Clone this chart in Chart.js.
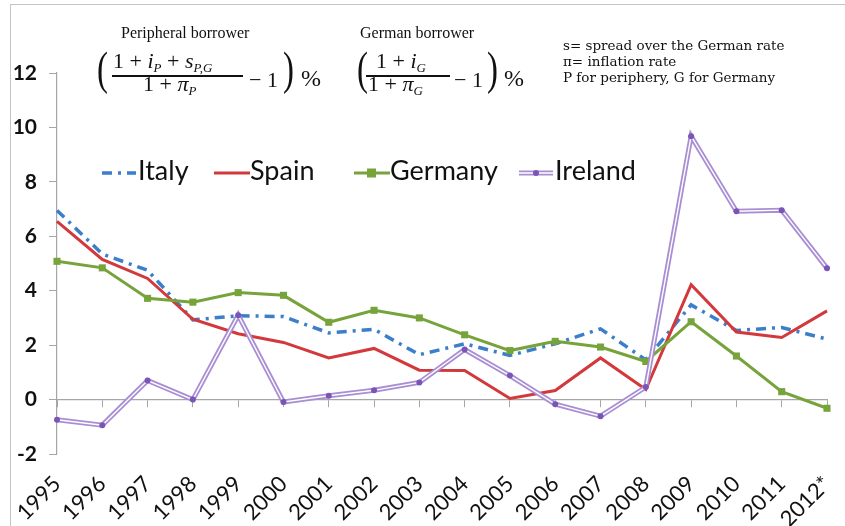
<!DOCTYPE html>
<html>
<head>
<meta charset="utf-8">
<script src="https://cdn.jsdelivr.net/npm/chart.js@4.4.1/dist/chart.umd.min.js"></script>
<style>
  body { margin: 0; background: #fff; }
  #wrap { position: relative; width: 845px; height: 526px; overflow: hidden; }
  #frame { position: absolute; left: 10px; top: 4px; width: 900px; height: 600px; border: 1px solid #c4c4c4; }
  canvas { position: absolute; left: 0; top: 0; }
  .t { position: absolute; font-family: "Liberation Serif", serif; color: #111; white-space: nowrap; line-height: normal; }
  .title { font-size: 16px; }
  .m { font-size: 22px; }
  .paren { font-size: 47px; transform: scaleX(0.7); transform-origin: left top; }
  .bar { position: absolute; height: 1.5px; background: #111; }
  .m sub { font-size: 13px; vertical-align: -4px; font-style: italic; }
  .note { font-family: "DejaVu Serif", serif; font-size: 13.5px; line-height: 16px; }
  #legend { position: absolute; left: 0; top: 153px; font-family: Lato, sans-serif; font-size: 27px; color: #111; }
  #legend .lt { position: absolute; top: 0; white-space: nowrap; }
  #legend svg { position: absolute; top: 6px; }
</style>
</head>
<body>
<div id="wrap">
  <div id="frame"></div>
  <canvas id="chart" width="845" height="526"></canvas>

  <div class="t title" style="left:121px; top:24px">Peripheral borrower</div>
  <div class="t paren" style="left:97px; top:41px">(</div>
  <div class="t m" style="left:113px; top:48px">1 + <i>i</i><sub>P</sub> + <i>s</i><sub>P,G</sub></div>
  <div class="bar" style="left:112px; top:75px; width:131px"></div>
  <div class="t m" style="left:143px; top:71px">1 + <i>π</i><sub>P</sub></div>
  <div class="t m" style="left:249px; top:67px">− 1</div>
  <div class="t paren" style="left:283px; top:41px">)</div>
  <div class="t m" style="left:301px; top:65px; font-size:24px">%</div>

  <div class="t title" style="left:360px; top:24px">German borrower</div>
  <div class="t paren" style="left:357px; top:41px">(</div>
  <div class="t m" style="left:376px; top:48px">1 + <i>i</i><sub>G</sub></div>
  <div class="bar" style="left:366px; top:75px; width:84px"></div>
  <div class="t m" style="left:368px; top:71px">1 + <i>π</i><sub>G</sub></div>
  <div class="t m" style="left:454px; top:67px">− 1</div>
  <div class="t paren" style="left:487px; top:41px">)</div>
  <div class="t m" style="left:504px; top:65px; font-size:24px">%</div>

  <div class="t note" style="left:563px; top:37px">s= spread over the German rate<br>π= inflation rate<br>P for periphery, G for Germany</div>

  <div id="legend"></div>
</div>
<script>
// data
const years = ['1995', '1996', '1997', '1998', '1999', '2000', '2001', '2002', '2003',
               '2004', '2005', '2006', '2007', '2008', '2009', '2010', '2011', '2012*'];
const italy   = [6.95, 5.35, 4.75, 2.93, 3.08, 3.05, 2.45, 2.58, 1.65, 2.05, 1.62, 2.05, 2.6, 1.46, 3.48, 2.54, 2.65, 2.22];
const spain   = [6.55, 5.15, 4.45, 2.95, 2.42, 2.1, 1.53, 1.88, 1.08, 1.07, 0.04, 0.33, 1.53, 0.37, 4.22, 2.48, 2.28, 3.26];
const germany = [5.08, 4.84, 3.72, 3.58, 3.93, 3.83, 2.84, 3.28, 3.0, 2.38, 1.8, 2.14, 1.93, 1.4, 2.86, 1.6, 0.29, -0.32];
const ireland = [-0.74, -0.94, 0.7, 0.0, 3.1, -0.09, 0.14, 0.34, 0.63, 1.84, 0.88, -0.17, -0.61, 0.46, 9.68, 6.92, 6.96, 4.83];
const yTicks  = [-2, 0, 2, 4, 6, 8, 10, 12];

const colors = {
    italy: '#3b7fcb',
    spain: '#d3383b',
    germany: '#77a33b',
    irelandLine: '#a98ed4',
    irelandDot: '#7a55b6'
};

const axisGray = '#a6a6a6';

// legend (html so it can sit where the original had it)
const legendItems = [
    { name: 'Italy',   sx: 102, tx: 138, draw: `<line x1="0" y1="14" x2="34" y2="14" stroke="${colors.italy}" stroke-width="3.5" stroke-dasharray="10 6 3 6"/>` },
    { name: 'Spain',   sx: 214, tx: 250, draw: `<line x1="0" y1="14" x2="36" y2="14" stroke="${colors.spain}" stroke-width="3"/>` },
    { name: 'Germany', sx: 354, tx: 390, draw: `<line x1="0" y1="14" x2="36" y2="14" stroke="${colors.germany}" stroke-width="3"/><rect x="13" y="9.5" width="9" height="9" fill="${colors.germany}"/>` },
    { name: 'Ireland', sx: 519, tx: 555, draw: `<line x1="0" y1="14" x2="34" y2="14" stroke="${colors.irelandLine}" stroke-width="5"/><line x1="0" y1="14" x2="34" y2="14" stroke="#fff" stroke-width="1.4"/><circle cx="17" cy="14" r="3" fill="${colors.irelandDot}"/>` }
];
const legend = document.getElementById('legend');
legendItems.forEach(item => {
    legend.insertAdjacentHTML('beforeend',
        `<svg width="38" height="28" style="left:${item.sx}px">${item.draw}</svg>` +
        `<span class="lt" style="left:${item.tx}px">${item.name}</span>`);
});

const ctx = document.getElementById('chart').getContext('2d');
new Chart(ctx, {
    type: 'line',
    data: {
        labels: years,
        datasets: [
            {
                label: 'Ireland',
                data: ireland,
                borderColor: '#ffffff',
                borderWidth: 1.4,
                pointRadius: 3,
                pointBackgroundColor: colors.irelandDot,
                pointBorderWidth: 0
            },
            {
                label: 'Ireland (outline)',
                data: ireland,
                borderColor: colors.irelandLine,
                borderWidth: 5,
                pointRadius: 0
            },
            {
                label: 'Germany',
                data: germany,
                borderColor: colors.germany,
                borderWidth: 3,
                pointStyle: 'rect',
                pointRadius: 5,
                pointBackgroundColor: colors.germany,
                pointBorderWidth: 0
            },
            {
                label: 'Spain',
                data: spain,
                borderColor: colors.spain,
                borderWidth: 3,
                pointRadius: 0
            },
            {
                label: 'Italy',
                data: italy,
                borderColor: colors.italy,
                borderWidth: 3.5,
                borderDash: [10, 6, 3, 6],
                pointRadius: 0
            }
        ]
    },
    options: {
        responsive: false,
        animation: false,
        events: [],
        layout: { padding: { top: 73, right: 18, left: 0, bottom: 0 } },
        plugins: { legend: { display: false }, tooltip: { enabled: false } },
        elements: { line: { tension: 0 } },
        scales: {
            x: {
                type: 'category',
                position: 'bottom',
                offset: false,
                grid: { display: false, drawTicks: false },
                border: { display: false },
                ticks: {
                    font: { family: 'Lato', size: 22 },
                    color: '#111',
                    autoSkip: false,
                    minRotation: 45,
                    maxRotation: 45,
                    padding: 17
                },
                afterFit: (scale) => {
                    scale.height = 72;
                    scale.paddingLeft = 0;
                    scale.paddingRight = 0;
                }
            },
            x0: {
                type: 'category',
                position: { y: 0 },
                offset: false,
                grid: { drawOnChartArea: false, drawTicks: true, tickLength: 7, color: axisGray },
                border: { display: true, color: axisGray, width: 1.2 },
                ticks: { display: false, autoSkip: false },
                afterFit: (scale) => {
                    scale.paddingLeft = 0;
                    scale.paddingRight = 0;
                }
            },
            y: {
                min: -2,
                max: 12,
                afterBuildTicks: (scale) => { scale.ticks = yTicks.map(v => ({ value: v })); },
                grid: { drawOnChartArea: false, drawTicks: true, tickLength: 8, color: axisGray },
                border: { display: true, color: axisGray, width: 1.2 },
                ticks: {
                    font: { family: 'Lato', size: 21, weight: 'bold' },
                    color: '#111',
                    padding: 12
                },
                afterFit: (scale) => { scale.width = 57; }
            }
        }
    }
});
</script>
</body>
</html>
